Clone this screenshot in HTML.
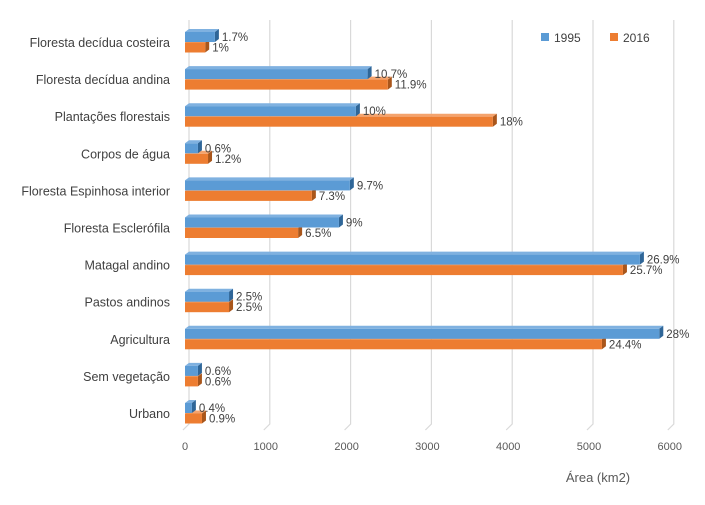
<!DOCTYPE html>
<html><head><meta charset="utf-8"><style>
html,body{margin:0;padding:0;background:#fff;}
svg{display:block;font-family:"Liberation Sans",sans-serif;}
</style></head><body>
<svg id="chart" width="705" height="505"></svg>
<script>
const categories=["Floresta decídua costeira","Floresta decídua andina","Plantações florestais","Corpos de água","Floresta Espinhosa interior","Floresta Esclerófila","Matagal andino","Pastos andinos","Agricultura","Sem vegetação","Urbano"];
const values1995=[370,2260,2115,160,2040,1905,5630,545,5870,160,85];
const values2016=[250,2510,3810,285,1570,1400,5420,545,5160,160,210];
const labels1995=["1.7%","10.7%","10%","0.6%","9.7%","9%","26.9%","2.5%","28%","0.6%","0.4%"];
const labels2016=["1%","11.9%","18%","1.2%","7.3%","6.5%","25.7%","2.5%","24.4%","0.6%","0.9%"];
const ticks=[0,1000,2000,3000,4000,5000,6000];

const svg=document.getElementById('chart');
const NS="http://www.w3.org/2000/svg";
const x0=185,pxPer=80.8/1000,y0=42,step=37.1,D=4;
const xs=v=>x0+v*pxPer;
const yc=i=>y0+i*step;
function mk(tag,attrs,parent){const e=document.createElementNS(NS,tag);for(const k in attrs)e.setAttribute(k,attrs[k]);(parent||svg).appendChild(e);return e;}

ticks.forEach(t=>{
  const x=xs(t);
  const g=mk('polyline',{points:`${x+D},20 ${x+D},424 ${x-2},430`,fill:'none',stroke:'#d9d9d9','stroke-width':1.2});
  
  
  const tl=mk('text',{x:x,y:450,'text-anchor':'middle','font-size':11,fill:'#595959'});
  tl.textContent=t;
  
  
});

function bar(v,top,h,front,topc,side,name,label){
  const x=xs(v);
  const g=mk('g',{});
  
  
  mk('polygon',{points:`${x0},${top} ${x0+D},${top-3} ${x+D},${top-3} ${x},${top}`,fill:topc},g);
  mk('polygon',{points:`${x},${top} ${x+D},${top-3} ${x+D},${top+h-3} ${x},${top+h}`,fill:side},g);
  mk('rect',{x:x0,y:top,width:Math.max(0,x-x0),height:h,fill:front},g);
  const t=mk('text',{x:x+D+3,y:top+h/2+4,'font-size':11.5,fill:'#404040'});
  t.textContent=label;
  
  
}

categories.forEach((c,i)=>{
  const cy=yc(i);
  const lt=mk('text',{x:170,y:cy+5,'text-anchor':'end','font-size':12.5,fill:'#404040'});
  lt.textContent=c;
  
  
  bar(values2016[i],cy+0.5,10,'#ed7d31','#f4a36d','#a9561b','bar-2016-'+i,labels2016[i]);
  bar(values1995[i],cy-10,10,'#5b9bd5','#7fb1e0','#2f6698','bar-1995-'+i,labels1995[i]);
});

const lg=mk('g',{});


mk('rect',{x:541,y:33,width:8,height:8,fill:'#5b9bd5'},lg);
const l1=mk('text',{x:554,y:42,'font-size':12,fill:'#404040'},lg);l1.textContent='1995';


mk('rect',{x:610,y:33,width:8,height:8,fill:'#ed7d31'},lg);
const l2=mk('text',{x:623,y:42,'font-size':12,fill:'#404040'},lg);l2.textContent='2016';



const at=mk('text',{x:598,y:482,'text-anchor':'middle','font-size':13,fill:'#595959'});
at.textContent='Área (km2)';


</script>
</body></html>
